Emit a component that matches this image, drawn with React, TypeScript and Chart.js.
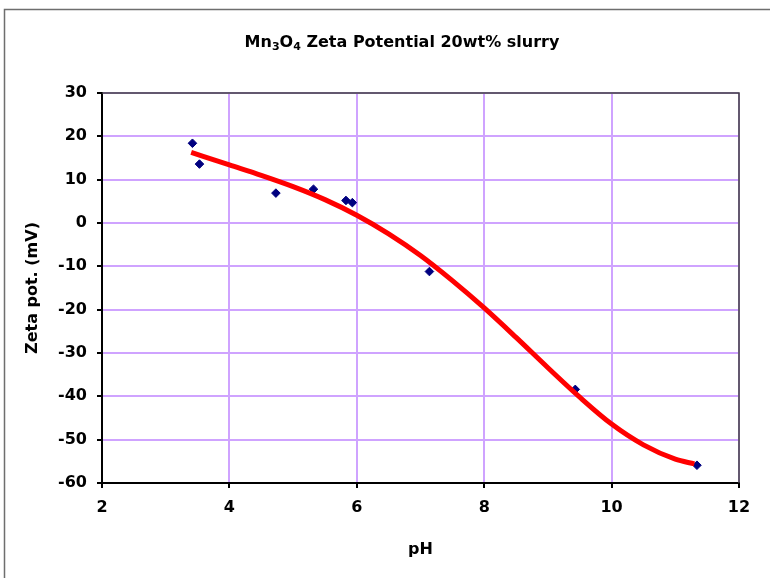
import React, { useEffect, useRef } from "react";
import { Chart, registerables } from "chart.js";

Chart.register(...registerables);

// Measured data points (pH, zeta potential mV)
const phValues = [3.42, 3.53, 4.73, 5.32, 5.83, 5.93, 7.14, 9.43, 11.34];
const zetaValues = [18.4, 13.6, 6.9, 7.8, 5.2, 4.7, -11.2, -38.4, -55.9];

// Trend line
const trendPh = [3.4, 4.0, 4.5, 5.0, 5.5, 6.0, 6.5, 7.0, 7.5, 8.0, 8.5, 9.0, 9.5, 10.0, 10.5, 11.0, 11.3];
const trendZeta = [16.3, 13.4, 11.0, 8.4, 5.4, 1.8, -2.5, -7.5, -13.3, -19.6, -26.4, -33.4, -40.2, -46.4, -51.2, -54.5, -55.6];

const xTicks = [2, 4, 6, 8, 10, 12];
const yTicks = [-60, -50, -40, -30, -20, -10, 0, 10, 20, 30];

const titleParts: [string, boolean][] = [
  ["Mn", false],
  ["3", true],
  ["O", false],
  ["4", true],
  [" Zeta Potential 20wt% slurry", false],
];
const xTitle = "pH";
const yTitle = "Zeta pot. (mV)";

const FONT = "'DejaVu Sans', 'Liberation Sans', Arial, sans-serif";

const decorPlugin = {
  id: "decor",
  beforeDraw(chart: any) {
    const ctx = chart.ctx;
    ctx.save();
    ctx.fillStyle = "#ffffff";
    ctx.fillRect(0, 0, chart.width, chart.height);
    // outer frame
    ctx.strokeStyle = "#6e6e6e";
    ctx.lineWidth = 1.5;
    ctx.beginPath();
    ctx.moveTo(4.5, chart.height + 2);
    ctx.lineTo(4.5, 9.5);
    ctx.lineTo(chart.width + 2, 9.5);
    ctx.stroke();
    ctx.restore();
  },
  afterDraw(chart: any) {
    const ctx = chart.ctx;
    const a = chart.chartArea;
    ctx.save();
    // top & right plot border
    ctx.strokeStyle = "#404040";
    ctx.lineWidth = 1.5;
    ctx.beginPath();
    ctx.moveTo(a.left, a.top);
    ctx.lineTo(a.right, a.top);
    ctx.lineTo(a.right, a.bottom);
    ctx.stroke();

    // title with subscripts
    ctx.fillStyle = "#000";
    ctx.textBaseline = "alphabetic";
    ctx.textAlign = "left";
    const big = `bold 16px ${FONT}`;
    const small = `bold 11px ${FONT}`;
    let total = 0;
    for (const [t, sub] of titleParts) {
      ctx.font = sub ? small : big;
      total += ctx.measureText(t).width;
    }
    let x = 402 - total / 2;
    const base = 47;
    for (const [t, sub] of titleParts) {
      ctx.font = sub ? small : big;
      ctx.fillText(t, x, sub ? base + 3 : base);
      x += ctx.measureText(t).width;
    }

    // axis titles
    ctx.font = big;
    ctx.textAlign = "center";
    ctx.fillText(xTitle, (a.left + a.right) / 2, 554);
    ctx.translate(37, (a.top + a.bottom) / 2);
    ctx.rotate(-Math.PI / 2);
    ctx.fillText(yTitle, 0, 0);
    ctx.restore();
  },
};

export default function App() {
  const ref = useRef<HTMLCanvasElement | null>(null);
  useEffect(() => {
    if (!ref.current) return;
    const tickFont = { family: FONT, size: 16, weight: "bold" as const };
    const chart = new Chart(ref.current, {
      type: "scatter",
      data: {
        datasets: [
          {
            label: "trend",
            data: trendPh.map((p, i) => ({ x: p, y: trendZeta[i] })),
            showLine: true,
            borderColor: "#ff0000",
            backgroundColor: "#ff0000",
            borderWidth: 5,
            pointRadius: 0,
            cubicInterpolationMode: "monotone",
            order: 0,
          },
          {
            label: "data",
            data: phValues.map((p, i) => ({ x: p, y: zetaValues[i] })),
            pointStyle: "rectRot",
            pointRadius: 4.3,
            backgroundColor: "#000080",
            borderColor: "#000080",
            borderWidth: 1,
            order: 1,
          },
        ],
      },
      options: {
        animation: false,
        responsive: false,
        maintainAspectRatio: false,
        layout: { padding: { left: 0, top: 93, right: 31, bottom: 0 } },
        plugins: {
          legend: { display: false },
          title: { display: false },
          tooltip: { enabled: false },
        },
        scales: {
          x: {
            type: "linear",
            min: 2,
            max: 12,
            afterBuildTicks: (s: any) => {
              s.ticks = xTicks.map((v) => ({ value: v }));
            },
            afterFit: (s: any) => {
              s.height = 95;
            },
            ticks: { font: tickFont, color: "#000", padding: 10, maxRotation: 0 },
            grid: { color: "#cfa3ff", lineWidth: 2, tickLength: 5, tickColor: "#000" },
            border: { color: "#000", width: 2 },
          },
          y: {
            type: "linear",
            min: -60,
            max: 30,
            afterBuildTicks: (s: any) => {
              s.ticks = yTicks.map((v) => ({ value: v }));
            },
            afterFit: (s: any) => {
              s.width = 102;
            },
            ticks: { font: tickFont, color: "#000", padding: 10 },
            grid: { color: "#cfa3ff", lineWidth: 2, tickLength: 5, tickColor: "#000" },
            border: { color: "#000", width: 2 },
          },
        },
      },
      plugins: [decorPlugin],
    });
    return () => chart.destroy();
  }, []);
  return (
    <div style={{ position: "fixed", left: 0, top: 0, width: 770, height: 578, overflow: "hidden" }}>
      <canvas ref={ref} width={770} height={578} style={{ display: "block", width: 770, height: 578 }} />
    </div>
  );
}
